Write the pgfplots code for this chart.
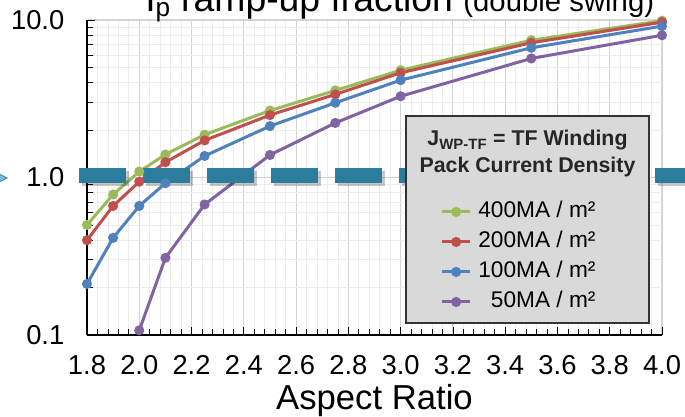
\documentclass[border=0pt]{standalone}
\usepackage{fontspec}
\setmainfont{Liberation Sans}
\usepackage{pgfplots}
\pgfplotsset{compat=1.18}
\usetikzlibrary{calc}
\definecolor{cGreen}{RGB}{155,187,89}
\definecolor{cRed}{RGB}{192,80,77}
\definecolor{cBlue}{RGB}{79,129,189}
\definecolor{cPurple}{RGB}{128,100,162}
\definecolor{cTeal}{RGB}{44,124,158}
\definecolor{cLegFill}{RGB}{217,217,217}
\definecolor{cArrowFill}{RGB}{125,190,222}
\definecolor{cArrowDraw}{RGB}{60,140,180}
\begin{document}
\begin{tikzpicture}
\begin{axis}[
  name=ax,
  scale only axis, width=431.25pt, height=236.25pt,
  xmin=1.8, xmax=4.0, ymin=0.1, ymax=10, ymode=log,
  clip=false,
  axis lines=left, axis line style={-, black, line width=0.8pt},
  xtick={1.8,2.0,2.2,2.4,2.6,2.8,3.0,3.2,3.4,3.6,3.8,4.0},
  xticklabels={1.8,2.0,2.2,2.4,2.6,2.8,3.0,3.2,3.4,3.6,3.8,4.0},
  minor x tick num=4,
  ytick={0.1,1,10}, yticklabels={0.1,1.0,10.0},
  minor ytick={0.2,0.3,0.4,0.5,0.6,0.7,0.8,0.9,2,3,4,5,6,7,8,9},
  grid=both,
  major grid style={draw=black!17, line width=0.8pt},
  minor grid style={draw=black!7, line width=0.6pt},
  tick align=inside,
  major tick length=6pt, minor tick length=4.5pt,
  tick style={black, line width=0.6pt},
  ticklabel style={font=\fontsize{20.5}{20.5}\selectfont},
  xticklabel style={yshift=-12pt},
  yticklabel style={xshift=-13.5pt},
  xlabel={Aspect Ratio},
  xlabel style={font=\fontsize{26}{26}\selectfont, at={(rel axis cs:0.5,0)}, anchor=base, yshift=-56pt},
  every axis plot/.append style={line width=2.25pt, mark=*, mark size=2.6pt, mark options={solid}},
  legend image code/.code={\draw[mark repeat=2,mark phase=2,#1] plot coordinates {(0pt,0pt) (10.5pt,0pt) (21pt,0pt)};},
  legend cell align=right,
  legend style={at={(rel axis cs:0.6146,0.4316)}, anchor=north west, draw=none, fill=none,
    inner sep=0pt, column sep=4pt, row sep=3.5pt,
    font=\fontsize{17}{17}\selectfont,
    nodes={inner sep=1pt, text height=13pt, text depth=4pt}},
]
\addplot[cGreen] coordinates {(1.8,0.50) (1.9,0.78) (2.0,1.09) (2.1,1.40) (2.25,1.87) (2.5,2.66) (2.75,3.57) (3.0,4.80) (3.5,7.44) (4.0,9.9)};
\addlegendentry{400MA / m²}
\addplot[cRed] coordinates {(1.8,0.40) (1.9,0.66) (2.0,0.94) (2.1,1.25) (2.25,1.72) (2.5,2.49) (2.75,3.37) (3.0,4.62) (3.5,7.17) (4.0,9.68)};
\addlegendentry{200MA / m²}
\addplot[cBlue] coordinates {(1.8,0.211) (1.9,0.414) (2.0,0.66) (2.1,0.92) (2.25,1.37) (2.5,2.12) (2.75,2.98) (3.0,4.15) (3.5,6.66) (4.0,9.14)};
\addlegendentry{100MA / m²}
\addplot[cPurple] coordinates {(2.0,0.107) (2.1,0.309) (2.25,0.674) (2.5,1.39) (2.75,2.22) (3.0,3.28) (3.5,5.70) (4.0,8.00)};
\addlegendentry{50MA / m²}
% dashed reference line with shadow
\addplot[forget plot, no marks, draw=black, opacity=0.22, line width=11.25pt, dash pattern=on 35.6pt off 12.4pt,
  transform canvas={xshift=2pt, yshift=-2.5pt}] coordinates {(1.7694,1.03) (4.2,1.03)};
\addplot[forget plot, no marks, draw=cTeal, line width=11.25pt, dash pattern=on 35.6pt off 12.4pt] coordinates {(1.7694,1.03) (4.2,1.03)};
% legend box and title
\draw[fill=cLegFill, draw=black!80, line width=1.1pt] (rel axis cs:0.5548,0.0381) rectangle (rel axis cs:0.9774,0.6952);
\node[anchor=base, font=\bfseries\fontsize{16}{16}\selectfont, text=black!85, inner sep=0pt] at (rel axis cs:0.7661,0.6) {J\textsubscript{WP-TF} = TF Winding};
\node[anchor=base, font=\bfseries\fontsize{16}{16}\selectfont, text=black!85, inner sep=0pt] at (rel axis cs:0.7661,0.5143) {Pack Current Density};
% chart title (cut off at the top, as in the original)
\node[anchor=base west, font=\fontsize{28}{28}\selectfont, inner sep=0pt] at (rel axis cs:0.1009,1) [yshift=6pt] {I\textsubscript{p} ramp-up fraction {\fontsize{22}{22}\selectfont (double swing)}};
\end{axis}
% left arrow marker (cut off)
\draw[fill=cArrowFill, draw=cArrowDraw, line width=0.8pt] ($(ax.south west)+(-72pt,123.75pt)$) -- ($(ax.south west)+(-60pt,117.75pt)$) -- ($(ax.south west)+(-72pt,111.75pt)$) -- cycle;
\pgfresetboundingbox
\useasboundingbox ($(ax.south west)+(-65.25pt,-61.5pt)$) rectangle ($(ax.south west)+(448.5pt,251.25pt)$);
\end{tikzpicture}
\end{document}
